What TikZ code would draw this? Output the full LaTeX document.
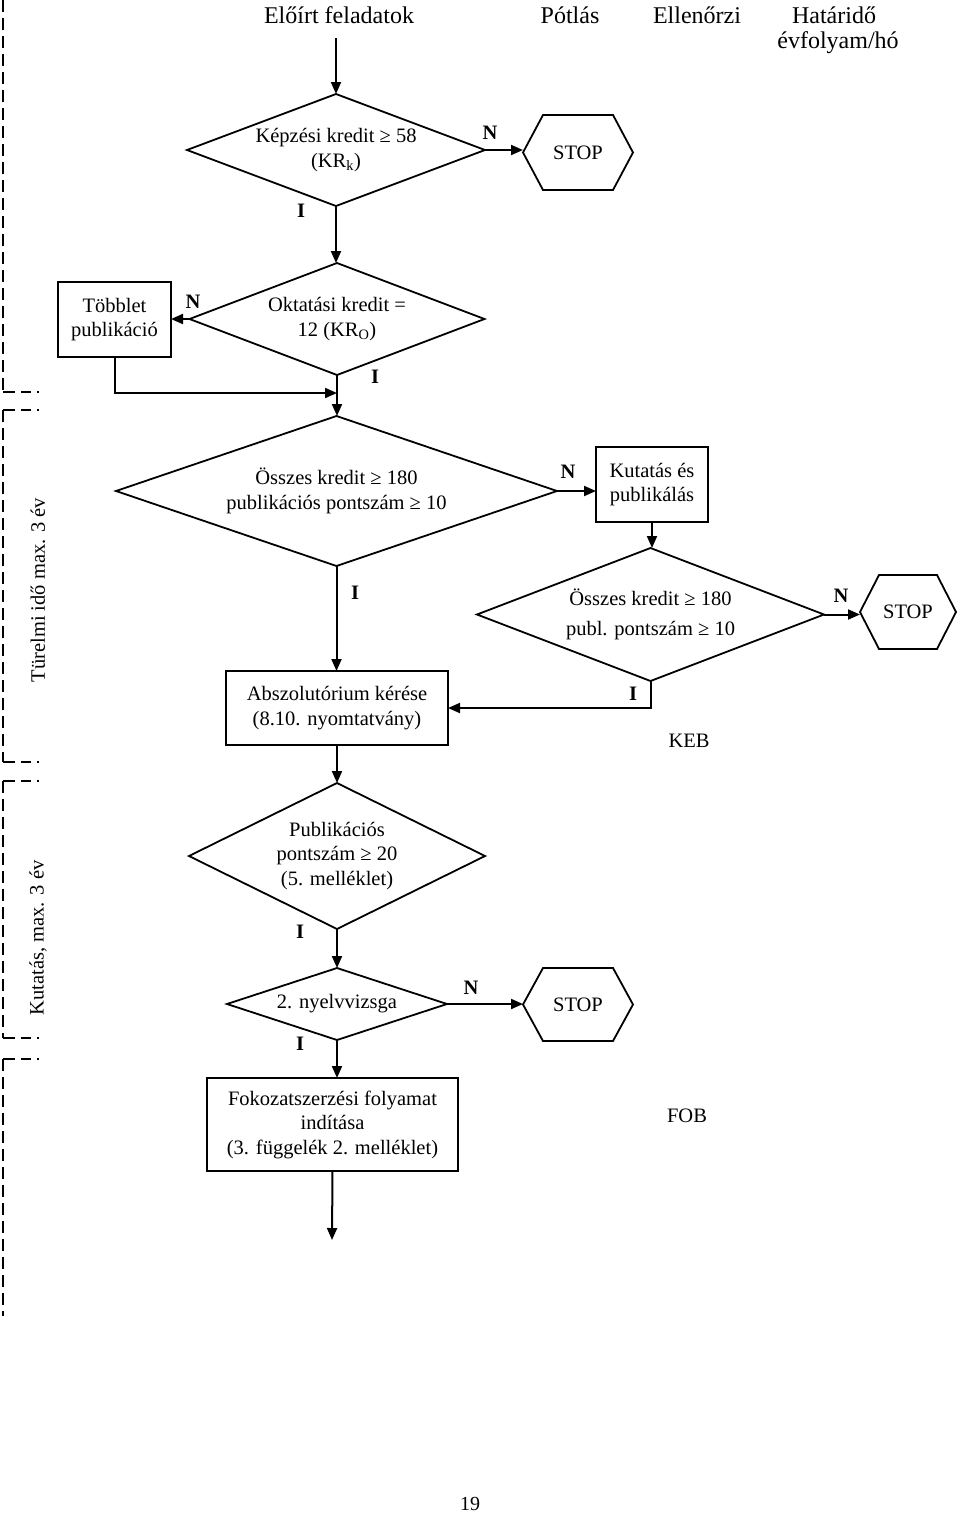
\documentclass[tikz,border=0pt]{standalone}
\usepackage{fontspec}
\setmainfont{Liberation Serif}
\usetikzlibrary{shapes.geometric,arrows.meta}
\newcommand\hexstop[6]{%
  \node[minimum width=#4pt, minimum height=#5pt, inner sep=0pt, outer sep=0pt] (#1) at (#2,#3) {STOP};
  \draw[hexline] (#1.west) -- ([xshift=#6pt]#1.north west) -- ([xshift=-#6pt]#1.north east) -- (#1.east) -- ([xshift=-#6pt]#1.south east) -- ([xshift=#6pt]#1.south west) -- cycle;}
\begin{document}
\begin{tikzpicture}[x=1pt,y=-1pt,
  every node/.style={font=\fontsize{20.5pt}{24.5pt}\selectfont},
  pbox/.style={draw,line width=1.8pt,align=center,inner sep=0pt,outer sep=0pt},
  dia/.style={draw,shape=diamond,line width=1.8pt,align=center,inner sep=0pt,outer sep=0pt},
  lab/.style={font=\fontsize{20.5pt}{24.5pt}\selectfont\bfseries},
  hdr/.style={font=\fontsize{24pt}{29pt}\selectfont},
  arr/.style={line width=2pt,-{Triangle[length=12pt,width=10pt]}},
  hexline/.style={line width=1.8pt},
  brk/.style={line width=1.5pt,dash pattern=on 12pt off 6pt},
  brkh/.style={line width=1.5pt,dash pattern=on 12pt off 6pt on 10pt off 6pt on 2pt off 10pt},
]
\useasboundingbox (0,0) rectangle (960,1513);

% header
\node[hdr] (h1) at (339,15) {Előírt feladatok};
\node[hdr] (h2) at (570,15) {Pótlás};
\node[hdr] (h3) at (697,15) {Ellenőrzi};
\node[hdr] (h4) at (834,15) {Határidő};
\node[hdr] (h5) at (838,43) {évfolyam/hó};

% left brackets
\draw[brk] (3,0) -- (3,392);
\draw[brkh] (3,392) -- (41,392);
\draw[brkh] (3,410) -- (41,410);
\draw[brk] (3,410) -- (3,762);
\draw[brkh] (3,762) -- (41,762);
\draw[brkh] (3,781) -- (41,781);
\draw[brk] (3,781) -- (3,1038);
\draw[brkh] (3,1038) -- (41,1038);
\draw[brkh] (3,1059) -- (41,1059);
\draw[brk] (3,1059) -- (3,1316);
\node[rotate=90] (t1) at (38,590) {Türelmi idő max. 3 év};
\node[rotate=90] (t2) at (38,938) {Kutatás, max. 3 év};

% shapes
\node[dia, minimum width=298pt, minimum height=112pt, aspect=2.66] (d1) at (336,150) {Képzési kredit ≥ 58\\(KR\textsubscript{k})};
\hexstop{s1}{578}{152.5}{110}{75}{20}
\node[dia, minimum width=295pt, minimum height=112pt, aspect=2.63] (d2) at (337,319) {Oktatási kredit =\\12 (KR\textsubscript{O})};
\node[pbox, minimum width=113pt, minimum height=75pt] (tobb) at (114.5,319.5) {Többlet\\publikáció};
\node[dia, minimum width=441pt, minimum height=150pt, aspect=2.94] (d3) at (336.5,491) {Összes kredit ≥ 180\\publikációs pontszám ≥ 10};
\node[pbox, minimum width=112pt, minimum height=75pt] (kut) at (652,484.5) {Kutatás és\\publikálás};
\node[dia, minimum width=347pt, minimum height=133pt, aspect=2.61] (d4) at (650.5,614.5) {Összes kredit ≥ 180\\[5pt]publ. pontszám ≥ 10};
\hexstop{s2}{908}{612}{96}{74}{19}
\node[pbox, minimum width=222pt, minimum height=74pt] (abs) at (337,708) {Abszolutórium kérése\\(8.10. nyomtatvány)};
\node (keb) at (689,741) {KEB};
\node[dia, minimum width=296pt, minimum height=146pt, aspect=2.03] (d5) at (337,856) {Publikációs\\pontszám ≥ 20\\(5. melléklet)};
\node[dia, minimum width=220pt, minimum height=72pt, aspect=3.06] (d6) at (337,1004) {2. nyelvvizsga};
\hexstop{s3}{578}{1004.5}{110}{73}{20}
\node[pbox, minimum width=251pt, minimum height=93pt] (fok) at (332.5,1124.5) {Fokozatszerzési folyamat\\indítása\\(3. függelék 2. melléklet)};
\node (fob) at (687,1116) {FOB};
\node[font=\fontsize{20pt}{24pt}\selectfont] (pg) at (470,1504) {19};

% labels
\node[lab] (n1) at (490,133) {N};
\node[lab] (i1) at (301,211) {I};
\node[lab] (n2) at (193,302) {N};
\node[lab] (i2) at (375,377) {I};
\node[lab] (n3) at (568,472) {N};
\node[lab] (i3) at (355,593) {I};
\node[lab] (n4) at (841,596) {N};
\node[lab] (i4) at (633,694) {I};
\node[lab] (i5) at (300,932) {I};
\node[lab] (n5) at (471,988) {N};
\node[lab] (i6) at (300,1044) {I};

% connectors
\coordinate (top) at (336,38);
\draw[arr] (top) -- (top |- d1.north);
\draw[arr] (d1.east) -- (d1.east -| s1.west);
\draw[arr] (d1.south) -- (d1.south |- d2.north);
\draw[arr] (d2.west) -- (d2.west -| tobb.east);
\draw[arr] (d2.south) -- (d2.south |- d3.north);
\coordinate (j1) at (337,393);
\draw[arr] (tobb.south) |- (j1);
\draw[arr] (d3.east) -- (d3.east -| kut.west);
\draw[arr] (kut.south) -- (kut.south |- d4.north);
\draw[arr] (d4.east) -- (d4.east -| s2.west);
\draw[arr] (d3.south) -- (d3.south |- abs.north);
\draw[arr] (d4.south) |- (abs.east);
\draw[arr] (abs.south) -- (abs.south |- d5.north);
\draw[arr] (d5.south) -- (d5.south |- d6.north);
\draw[arr] (d6.east) -- (d6.east -| s3.west);
\draw[arr] (d6.south) -- (d6.south |- fok.north);
\coordinate (bot) at (332,1240);
\draw[arr] (fok.south) -- (bot);
\end{tikzpicture}
\end{document}
